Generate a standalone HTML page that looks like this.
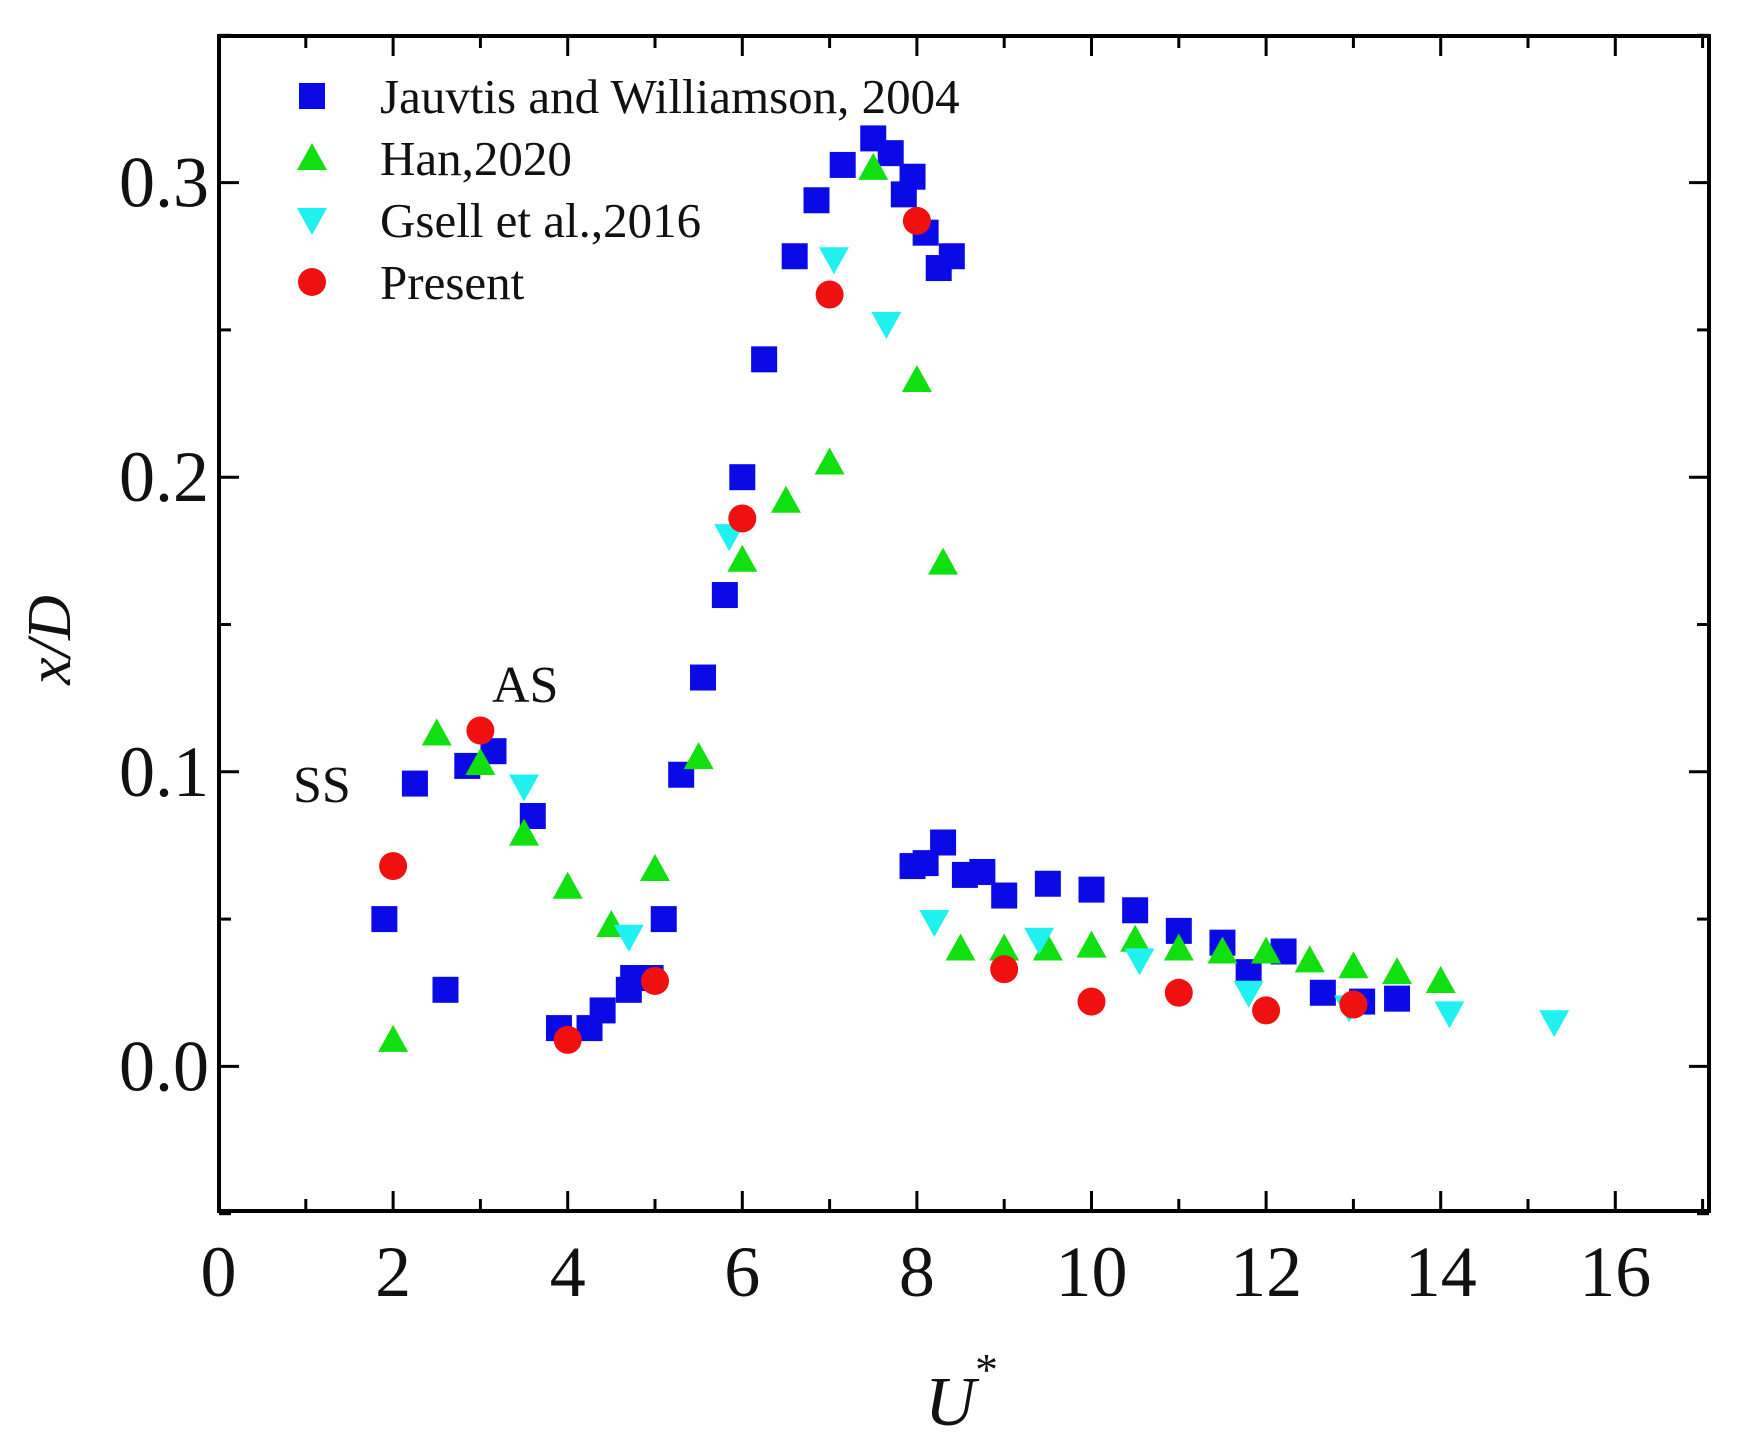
<!DOCTYPE html>
<html><head><meta charset="utf-8"><style>
html,body{margin:0;padding:0;background:#fff;width:1737px;height:1446px;overflow:hidden}
svg text{font-family:"Liberation Serif",serif;fill:#111}
</style></head><body>
<svg id="s" width="1737" height="1446" viewBox="0 0 1737 1446" xmlns="http://www.w3.org/2000/svg"></svg>
<script>
const s=document.getElementById('s');
const X=u=>218.5+u*87.3, Y=v=>1066.4-v*2946;
let h='';
const L=219,R=1709,T=36,B=1211;
h+=`<rect x="${L}" y="${T}" width="${R-L}" height="${B-T}" fill="none" stroke="#000" stroke-width="4"/>`;
for(let u=0;u<=17;u++){const x=X(u),len=u%2==0?20:12;
 h+=`<line x1="${x}" y1="${B}" x2="${x}" y2="${B-len}" stroke="#000" stroke-width="3"/>`;
 h+=`<line x1="${x}" y1="${T}" x2="${x}" y2="${T+len}" stroke="#000" stroke-width="3"/>`;
 if(u%2==0&&u<=16)h+=`<text x="${x}" y="${B+85}" font-size="72" text-anchor="middle">${u}</text>`;}
for(let i=-1;i<=7;i++){const v=i*0.05,y=Y(v),len=i%2==0?20:12;
 h+=`<line x1="${L}" y1="${y}" x2="${L+len}" y2="${y}" stroke="#000" stroke-width="3"/>`;
 h+=`<line x1="${R}" y1="${y}" x2="${R-len}" y2="${y}" stroke="#000" stroke-width="3"/>`;
 if(i%2==0&&i>=0)h+=`<text x="${L-10}" y="${y+24}" font-size="72" text-anchor="end">${v.toFixed(1)}</text>`;}
const sq=(x,y)=>`<rect x="${x-13}" y="${y-13}" width="26" height="26" fill="#0a0ae6"/>`;
const tu=(x,y)=>`<polygon points="${x},${y-15} ${x-15},${y+12} ${x+15},${y+12}" fill="#10e010"/>`;
const td=(x,y)=>`<polygon points="${x},${y+15} ${x-15},${y-12} ${x+15},${y-12}" fill="#20f0f0"/>`;
const ci=(x,y)=>`<circle cx="${x}" cy="${y}" r="14" fill="#f01010"/>`;
const J=[[1.9,0.05],[2.25,0.096],[2.6,0.026],[2.85,0.102],[3.15,0.107],[3.6,0.085],[3.9,0.013],[4.25,0.013],[4.4,0.019],[4.7,0.026],[4.75,0.03],[4.95,0.03],[5.1,0.05],[5.3,0.099],[5.55,0.132],[5.8,0.16],[6.0,0.2],[6.25,0.24],[6.6,0.275],[6.85,0.294],[7.15,0.306],[7.5,0.315],[7.7,0.31],[7.85,0.296],[7.95,0.302],[8.1,0.283],[8.25,0.271],[8.4,0.275],[7.95,0.068],[8.1,0.069],[8.3,0.076],[8.55,0.065],[8.75,0.066],[9.0,0.058],[9.5,0.062],[10.0,0.06],[10.5,0.053],[11.0,0.046],[11.5,0.042],[11.8,0.032],[12.2,0.039],[12.65,0.025],[13.1,0.022],[13.5,0.023]];
const G=[[2,0.009],[2.5,0.113],[3,0.103],[3.5,0.079],[4,0.061],[4.5,0.048],[5,0.067],[5.5,0.105],[6,0.172],[6.5,0.192],[7,0.205],[7.5,0.305],[8,0.233],[8.3,0.171],[8.5,0.04],[9,0.04],[9.5,0.04],[10,0.041],[10.5,0.043],[11,0.04],[11.5,0.039],[12,0.039],[12.5,0.036],[13,0.034],[13.5,0.032],[14,0.029]];
const C=[[3.5,0.095],[4.7,0.044],[5.85,0.18],[7.05,0.274],[7.65,0.252],[8.2,0.049],[9.4,0.043],[10.55,0.036],[11.8,0.025],[12.95,0.02],[14.1,0.018],[15.3,0.015]];
const P=[[2,0.068],[3,0.114],[4,0.009],[5,0.029],[6,0.186],[7,0.262],[8,0.287],[9,0.033],[10,0.022],[11,0.025],[12,0.019],[13,0.021]];
J.forEach(p=>h+=sq(X(p[0]),Y(p[1])));
G.forEach(p=>h+=tu(X(p[0]),Y(p[1])));
C.forEach(p=>h+=td(X(p[0]),Y(p[1])));
P.forEach(p=>h+=ci(X(p[0]),Y(p[1])));
const ly=[96,158,220,282],lt=["Jauvtis and Williamson, 2004","Han,2020","Gsell et al.,2016","Present"],lf=[sq,tu,td,ci];
ly.forEach((y,i)=>{h+=lf[i](312,y);h+=`<text x="380" y="${y+17}" font-size="49">${lt[i]}</text>`;});
h+=`<text x="293" y="802" font-size="52">SS</text><text x="492" y="702" font-size="52">AS</text>`;
h+=`<text transform="translate(70,640) rotate(-90)" font-size="62" font-style="italic" text-anchor="middle">x/D</text>`;
h+=`<text x="925" y="1425" font-size="70" font-style="italic">U</text><text x="975" y="1385" font-size="46">*</text>`;
s.innerHTML=h;
</script>
</body></html>
